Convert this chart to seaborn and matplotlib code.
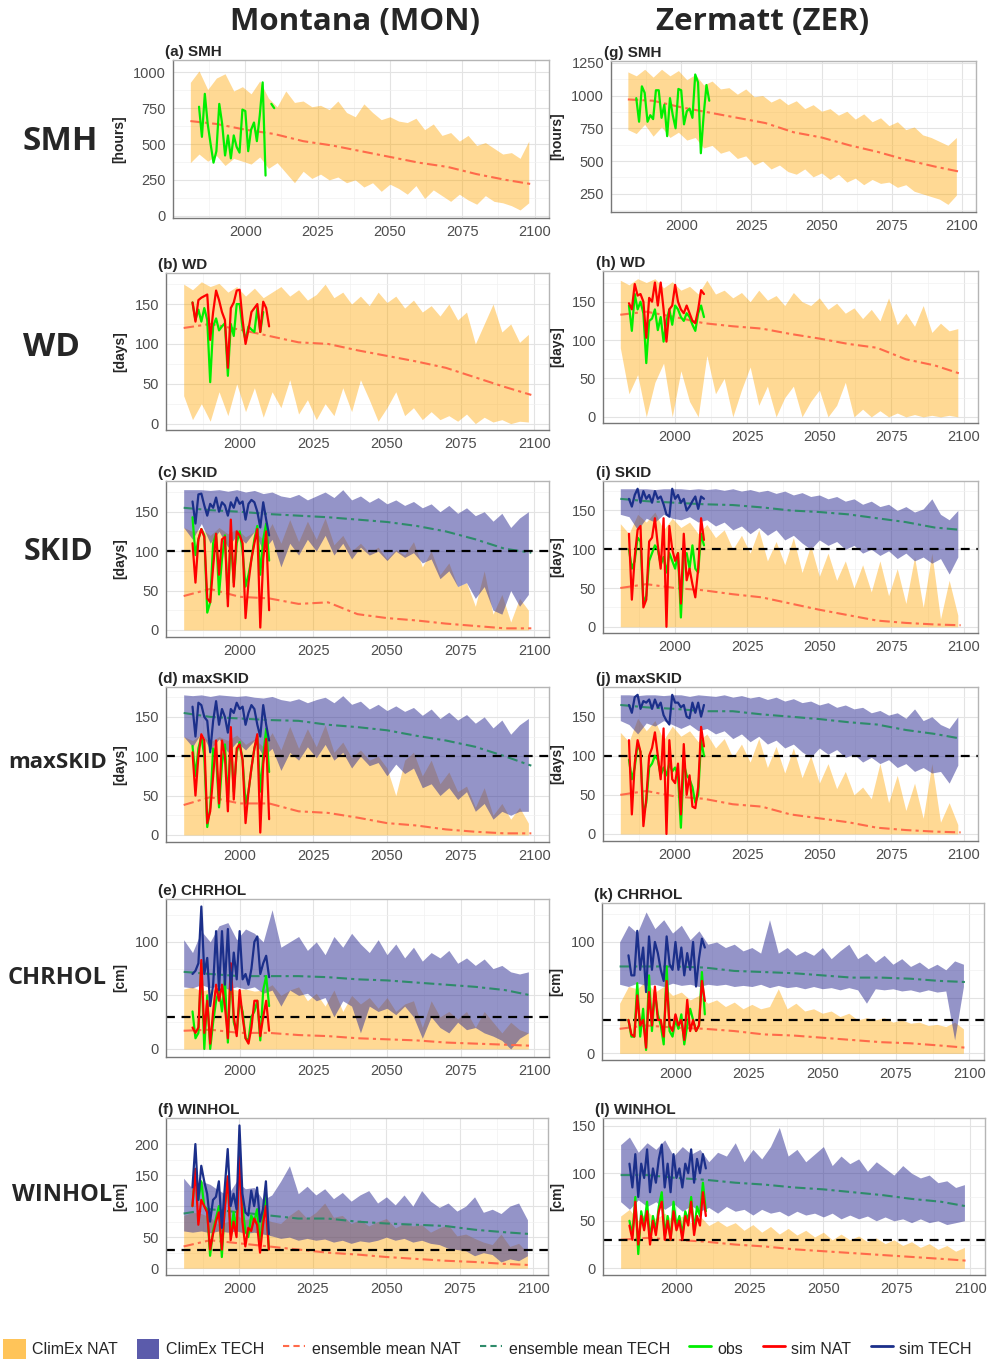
import numpy as np
import seaborn as sns
import matplotlib.pyplot as plt
from matplotlib.patches import Patch
from matplotlib.lines import Line2D
from matplotlib.ticker import FixedLocator

nan = np.nan

# ---- time axes ----
band_years = list(range(1981, 2100, 3))
mean_years = [1981, 1990, 2000, 2010, 2020, 2030, 2040, 2050, 2060, 2070, 2080, 2090, 2099]
obs_years = list(range(1984, 2011))
nat_floor = [0] * len(band_years)

# ---- (a) Montana SMH [hours] ----
mon_smh_nat_hi = [930, 1010, 880, 960, 990, 870, 900, 850, 940, 820,
                  760, 870, 790, 800, 760, 770, 740, 800, 720, 690,
                  780, 720, 670, 690, 660, 650, 680, 600, 640, 560,
                  580, 520, 560, 490, 510, 470, 430, 440, 400, 520]
mon_smh_nat_lo = [370, 430, 380, 420, 350, 400, 380, 360, 410, 330,
                  370, 300, 230, 310, 260, 290, 250, 270, 230, 250,
                  200, 230, 170, 220, 190, 150, 210, 120, 180, 140,
                  100, 150, 110, 80, 140, 100, 90, 70, 40, 90]
mon_smh_nat_mean = [660, 640, 600, 570, 520, 490, 450, 410, 370, 340, 290, 250, 220]
mon_smh_obs = [760, 550, 850, 640, 500, 370, 450, 780, 640, 420,
               560, 400, 560, 480, 440, 740, 730, 450, 600, 650,
               520, 700, 930, 280, nan, 780, 750]

# ---- (g) Zermatt SMH ----
zer_smh_nat_hi = [1180, 1150, 1200, 1140, 1200, 1150, 1190, 1120, 1160, 1080,
                  1110, 1050, 1060, 1010, 1050, 990, 1000, 950, 980, 930,
                  960, 900, 930, 880, 900, 850, 880, 820, 860, 800,
                  830, 770, 800, 740, 760, 700, 680, 650, 620, 680]
zer_smh_nat_lo = [740, 710, 780, 690, 760, 680, 720, 660, 680, 600,
                  620, 560, 580, 520, 540, 470, 500, 440, 470, 420,
                  400, 440, 380, 410, 360, 400, 340, 370, 320, 360,
                  330, 340, 300, 320, 270, 250, 230, 210, 170, 240]
zer_smh_nat_mean = [970, 960, 910, 870, 830, 790, 720, 680, 620, 570, 510, 460, 420]
zer_smh_obs = [980, 800, 1070, 1020, 800, 850, 820, 1040, 1040, 830,
               930, 690, 980, 850, 750, 1050, 1040, 780, 880, 900,
               830, 1160, 1100, 560, 850, 1080, 960]

# ---- (b) Montana WD [days] ----
mon_wd_nat_hi = [175, 168, 178, 172, 176, 165, 172, 160, 170, 158,
                 165, 172, 160, 168, 155, 162, 175, 158, 165, 150,
                 160, 148, 165, 152, 160, 145, 155, 140, 148, 135,
                 150, 130, 140, 100, 125, 150, 115, 125, 102, 112]
mon_wd_nat_lo = [35, 5, 25, 3, 40, 10, 50, 15, 45, 8,
                 40, 20, 55, 12, 30, 5, 25, 10, 45, 15,
                 55, 30, 3, 20, 40, 10, 20, 5, 15, 5,
                 10, 3, 12, 0, 8, 2, 5, 0, 3, 2]
mon_wd_nat_mean = [120, 125, 118, 110, 102, 100, 92, 85, 78, 70, 58, 46, 36]
mon_wd_obs = [152, 130, 143, 128, 145, 130, 52, 122, 132, 117,
              122, 126, 60, 125, 110, 150, 150, 120, 105, 122,
              118, 115, 145, 115, 140, nan, nan]
mon_wd_sim_nat = [152, 128, 155, 158, 160, 162, 105, 140, 167, 155,
                  140, 130, 70, 145, 152, 167, 168, 130, 100, 118,
                  140, 145, 150, 115, 153, 145, 122]

# ---- (h) Zermatt WD ----
zer_wd_nat_hi = [178, 172, 180, 175, 180, 168, 176, 165, 170, 160,
                 178, 160, 165, 155, 162, 150, 165, 152, 158, 145,
                 162, 150, 145, 155, 140, 148, 135, 142, 128, 140,
                 125, 155, 120, 135, 118, 145, 110, 122, 112, 115]
zer_wd_nat_lo = [90, 30, 55, 0, 45, 70, 0, 60, 20, 0,
                 80, 30, 50, 0, 35, 65, 15, 40, 0, 25,
                 40, 0, 20, 35, 0, 15, 45, 0, 10, 0,
                 8, 0, 5, 0, 3, 0, 2, 0, 2, 0]
zer_wd_nat_mean = [133, 137, 130, 122, 118, 115, 108, 102, 95, 90, 75, 67, 56]
zer_wd_obs = [145, 112, 160, 140, 150, 135, 70, 125, 128, 140,
              113, 130, 98, 125, 140, 120, 145, 140, 130, 125,
              135, 130, 120, 112, 135, 145, 130]
zer_wd_sim_nat = [148, 140, 173, 158, 160, 150, 103, 155, 150, 175,
                  145, 175, 140, 98, 140, 145, 172, 150, 140, 135,
                  145, 135, 125, 122, 140, 165, 160]

# ---- (c) Montana SKID [days] ----
mon_skid_tech_hi = [178, 178, 178, 177, 178, 176, 178, 175, 177, 173,
                    175, 170, 168, 172, 165, 170, 175, 168, 178, 165,
                    170, 162, 168, 160, 165, 158, 163, 155, 160, 150,
                    158, 148, 155, 145, 150, 138, 148, 130, 142, 150]
mon_skid_tech_lo = [130, 115, 135, 110, 125, 105, 120, 110, 125, 100,
                    115, 80, 110, 95, 115, 100, 120, 95, 110, 90,
                    105, 95, 100, 88, 100, 92, 98, 85, 90, 65,
                    75, 55, 60, 40, 55, 25, 20, 50, 30, 45]
mon_skid_nat_hi = [130, 125, 128, 120, 130, 122, 128, 118, 125, 115,
                   135, 110, 140, 112, 138, 115, 142, 108, 120, 100,
                   110, 98, 105, 90, 102, 95, 112, 80, 100, 70,
                   85, 55, 60, 30, 75, 20, 45, 10, 40, 25]
mon_skid_nat_mean = [43, 52, 42, 40, 33, 35, 20, 15, 12, 8, 5, 2, 2]
mon_skid_tech_mean = [155, 152, 150, 147, 145, 143, 140, 137, 132, 125, 115, 103, 98]
mon_skid_obs = [143, 95, 115, 128, 120, 22, 35, 110, 122, 45,
                90, 120, 40, 115, 60, 110, 125, 100, 55, 70,
                90, 115, 132, 70, 115, 135, 88]
mon_skid_sim_nat = [110, 60, 115, 128, 118, 40, 35, 80, 122, 70,
                    115, 118, 30, 140, 55, 125, 120, 110, 15, 60,
                    90, 110, 128, 3, 90, 125, 25]
mon_skid_sim_tech = [163, 135, 172, 173, 158, 145, 160, 155, 168, 150,
                     162, 158, 145, 162, 155, 168, 160, 163, 140, 160,
                     165, 162, 150, 130, 162, 140, 120]

# ---- (i) Zermatt SKID ----
zer_skid_tech_hi = [178, 178, 178, 178, 177, 178, 178, 178, 177, 178,
                    177, 178, 176, 178, 175, 177, 174, 176, 172, 175,
                    170, 173, 168, 170, 165, 168, 162, 165, 158, 162,
                    155, 158, 150, 155, 148, 152, 165, 145, 138, 150]
zer_skid_tech_lo = [145, 142, 125, 140, 135, 145, 140, 138, 142, 135,
                    138, 130, 135, 125, 130, 120, 128, 118, 125, 112,
                    118, 108, 100, 112, 105, 110, 100, 105, 95, 100,
                    92, 98, 88, 95, 85, 90, 82, 88, 68, 90]
zer_skid_nat_hi = [133, 120, 145, 135, 148, 125, 140, 128, 135, 120,
                   132, 115, 125, 100, 118, 95, 125, 85, 110, 80,
                   115, 70, 105, 65, 95, 60, 85, 50, 80, 45,
                   85, 40, 75, 30, 90, 25, 95, 10, 60, 15]
zer_skid_nat_mean = [50, 55, 50, 47, 42, 38, 30, 22, 15, 8, 5, 3, 2]
zer_skid_tech_mean = [165, 162, 160, 158, 157, 154, 150, 148, 145, 140, 135, 128, 125]
zer_skid_obs = [100, 75, 85, 115, 110, 30, 40, 85, 95, 105,
                100, 80, 90, 70, 95, 85, 75, 95, 12, 90,
                95, 75, 105, 75, 70, 120, 105]
zer_skid_sim_nat = [120, 35, 90, 125, 130, 25, 35, 110, 115, 140,
                    105, 75, 140, 0, 130, 100, 85, 95, 30, 120,
                    60, 75, 55, 38, 75, 140, 112]
zer_skid_sim_tech = [165, 155, 170, 178, 160, 175, 165, 170, 160, 175,
                     165, 168, 158, 145, 142, 178, 165, 170, 160, 165,
                     150, 155, 162, 168, 152, 168, 165]

# ---- (d) Montana maxSKID [days] ----
mon_maxskid_tech_hi = [178, 177, 178, 176, 178, 177, 176, 177, 175, 174,
                       176, 172, 170, 173, 168, 172, 175, 168, 177, 166,
                       170, 160, 166, 158, 164, 157, 162, 152, 160, 148,
                       156, 146, 153, 142, 150, 136, 146, 128, 140, 148]
mon_maxskid_tech_lo = [125, 112, 130, 108, 122, 105, 118, 108, 120, 100,
                       110, 82, 105, 95, 112, 98, 115, 95, 105, 85,
                       100, 88, 92, 75, 90, 78, 85, 60, 65, 50,
                       60, 45, 55, 30, 40, 20, 30, 25, 30, 30]
mon_maxskid_nat_hi = [125, 120, 128, 118, 125, 120, 127, 115, 122, 112,
                      130, 108, 138, 110, 135, 112, 140, 105, 118, 98,
                      108, 95, 100, 85, 50, 95, 105, 75, 95, 65,
                      80, 55, 62, 35, 60, 25, 40, 20, 35, 15]
mon_maxskid_nat_mean = [38, 48, 40, 40, 30, 28, 22, 15, 12, 7, 4, 2, 2]
mon_maxskid_tech_mean = [155, 150, 148, 146, 145, 140, 137, 133, 126, 120, 112, 100, 88]
mon_maxskid_obs = [113, 75, 110, 125, 100, 10, 35, 110, 100, 35,
                   90, 115, 45, 120, 55, 105, 118, 95, 40, 55,
                   85, 110, 125, 55, 100, 135, 80]
mon_maxskid_sim_nat = [105, 50, 100, 128, 120, 15, 30, 75, 120, 40,
                       120, 100, 30, 137, 45, 110, 115, 95, 15, 55,
                       85, 110, 128, 3, 90, 122, 20]
mon_maxskid_sim_tech = [163, 125, 168, 165, 150, 145, 105, 145, 170, 140,
                        160, 150, 130, 160, 155, 168, 160, 163, 140, 155,
                        165, 160, 140, 125, 165, 140, 120]

# ---- (j) Zermatt maxSKID ----
zer_maxskid_tech_hi = [178, 178, 177, 178, 178, 177, 178, 178, 176, 178,
                       177, 176, 178, 175, 177, 174, 176, 172, 175, 170,
                       173, 168, 170, 165, 168, 162, 165, 160, 162, 155,
                       158, 152, 155, 148, 160, 145, 150, 140, 135, 150]
zer_maxskid_tech_lo = [145, 140, 128, 142, 138, 145, 140, 135, 140, 132,
                       135, 128, 132, 122, 128, 118, 125, 115, 120, 110,
                       115, 105, 98, 110, 102, 108, 98, 102, 92, 98,
                       90, 95, 85, 90, 80, 85, 78, 80, 65, 88]
zer_maxskid_nat_hi = [130, 118, 148, 132, 145, 120, 138, 125, 132, 118,
                      128, 110, 122, 98, 115, 92, 122, 85, 112, 78,
                      110, 72, 100, 65, 90, 58, 80, 50, 60, 45,
                      90, 40, 75, 30, 65, 20, 90, 15, 40, 12]
zer_maxskid_nat_mean = [50, 55, 48, 45, 38, 35, 25, 20, 15, 8, 5, 3, 2]
zer_maxskid_tech_mean = [165, 162, 160, 157, 157, 153, 150, 147, 143, 140, 133, 128, 122]
zer_maxskid_obs = [95, 70, 85, 115, 105, 25, 40, 85, 90, 100,
                   95, 75, 85, 75, 90, 80, 85, 75, 8, 90,
                   75, 70, 60, 40, 50, 120, 100]
zer_maxskid_sim_nat = [120, 25, 90, 120, 105, 10, 45, 100, 110, 130,
                       100, 70, 135, 0, 120, 70, 65, 90, 25, 115,
                       50, 75, 35, 33, 60, 137, 112]
zer_maxskid_sim_tech = [165, 155, 175, 178, 160, 170, 168, 172, 160, 172,
                        162, 168, 152, 145, 140, 178, 168, 168, 162, 165,
                        150, 148, 168, 155, 168, 150, 165]

# ---- (e) Montana CHRHOL [cm] ----
mon_chrhol_tech_hi = [102, 90, 110, 100, 115, 118, 102, 112, 108, 100,
                      130, 95, 100, 105, 92, 100, 88, 105, 95, 108,
                      98, 90, 102, 88, 98, 85, 95, 82, 90, 85,
                      92, 80, 85, 78, 84, 75, 78, 72, 70, 72]
mon_chrhol_tech_lo = [58, 57, 60, 57, 59, 56, 58, 56, 58, 52,
                      55, 40, 55, 50, 52, 45, 48, 30, 45, 40,
                      15, 40, 35, 38, 32, 40, 30, 10, 30, 20,
                      15, 25, 18, 20, 15, 12, 8, 0, 10, 15]
mon_chrhol_nat_hi = [56, 58, 54, 56, 54, 57, 55, 56, 54, 55,
                     60, 50, 55, 58, 45, 52, 40, 55, 35, 50,
                     42, 48, 38, 48, 35, 42, 45, 20, 45, 30,
                     35, 28, 35, 20, 35, 25, 15, 25, 18, 15]
mon_chrhol_nat_mean = [17, 18, 15, 15, 13, 12, 10, 9, 8, 6, 5, 4, 3]
mon_chrhol_tech_mean = [72, 70, 68, 68, 68, 67, 65, 64, 62, 60, 58, 55, 50]
mon_chrhol_obs = [35, 10, 15, 80, 0, 50, 0, 25, 45, 55,
                  35, 65, 6, 75, 25, 15, 45, 35, 10, 8,
                  30, 35, 45, 8, 55, 68, 40]
mon_chrhol_sim_nat = [20, 15, 20, 83, 15, 45, 5, 35, 60, 45,
                      60, 40, 10, 80, 30, 12, 55, 30, 10, 5,
                      20, 45, 45, 12, 30, 45, 17]
mon_chrhol_sim_tech = [70, 73, 80, 133, 70, 85, 40, 60, 110, 55,
                       110, 60, 112, 55, 90, 65, 110, 65, 70, 60,
                       75, 100, 105, 70, 80, 87, 67]

# ---- (k) Zermatt CHRHOL ----
zer_chrhol_tech_hi = [100, 115, 108, 127, 112, 120, 108, 115, 102, 110,
                      98, 100, 95, 98, 92, 95, 90, 120, 90, 95,
                      88, 92, 88, 95, 85, 92, 98, 85, 90, 82,
                      88, 80, 85, 78, 82, 76, 80, 75, 83, 80]
zer_chrhol_tech_lo = [62, 60, 63, 61, 62, 60, 63, 61, 62, 60,
                      62, 61, 62, 60, 61, 60, 62, 59, 61, 59,
                      60, 58, 60, 58, 59, 57, 59, 57, 45, 58,
                      57, 58, 56, 57, 55, 57, 55, 56, 12, 60]
zer_chrhol_nat_hi = [45, 60, 58, 65, 55, 60, 52, 55, 48, 52,
                     45, 48, 42, 46, 40, 44, 40, 42, 58, 40,
                     45, 38, 40, 36, 38, 33, 36, 30, 32, 30,
                     32, 28, 30, 27, 28, 25, 26, 24, 28, 22]
zer_chrhol_nat_mean = [22, 25, 23, 22, 20, 17, 16, 14, 12, 10, 9, 7, 5]
zer_chrhol_tech_mean = [78, 78, 78, 77, 74, 73, 72, 70, 68, 68, 67, 65, 64]
zer_chrhol_obs = [30, 15, 15, 63, 15, 40, 3, 70, 20, 55,
                  35, 25, 8, 78, 20, 15, 30, 22, 35, 8,
                  25, 40, 30, 20, 25, 73, 35]
zer_chrhol_sim_nat = [30, 17, 15, 52, 25, 30, 5, 55, 25, 60,
                      30, 30, 15, 65, 25, 20, 35, 25, 30, 12,
                      48, 20, 30, 20, 25, 65, 47]
zer_chrhol_sim_tech = [88, 70, 70, 110, 75, 95, 55, 105, 75, 100,
                       90, 75, 65, 105, 80, 75, 100, 75, 95, 70,
                       90, 75, 100, 60, 85, 103, 95]

# ---- (f) Montana WINHOL [cm] ----
mon_winhol_tech_hi = [145, 128, 140, 135, 125, 118, 140, 128, 130, 110,
                      118, 140, 165, 120, 132, 118, 128, 112, 122, 108,
                      118, 125, 105, 115, 102, 118, 100, 125, 108, 98,
                      105, 92, 100, 115, 90, 95, 88, 100, 105, 78]
mon_winhol_tech_lo = [60, 58, 60, 57, 60, 58, 60, 56, 58, 55,
                      52, 48, 50, 45, 48, 45, 47, 42, 45, 40,
                      44, 42, 45, 50, 45, 48, 42, 45, 40, 38,
                      32, 30, 28, 20, 25, 22, 10, 15, 12, 20]
mon_winhol_nat_hi = [85, 90, 88, 82, 70, 75, 85, 78, 82, 80,
                     75, 72, 85, 95, 80, 90, 105, 82, 85, 72,
                     78, 68, 75, 80, 65, 72, 68, 70, 58, 65,
                     70, 52, 55, 48, 42, 38, 55, 35, 40, 25]
mon_winhol_nat_mean = [35, 45, 40, 35, 30, 25, 22, 18, 15, 12, 10, 7, 5]
mon_winhol_tech_mean = [88, 95, 90, 85, 80, 80, 75, 72, 70, 68, 62, 58, 55]
mon_winhol_obs = [100, 160, 110, 140, 100, 95, 20, 60, 80, 100,
                  18, 100, 145, 55, 90, 60, 185, 100, 60, 50,
                  85, 75, 95, 40, 80, 120, 30]
mon_winhol_sim_nat = [100, 160, 70, 110, 100, 90, 30, 55, 75, 90,
                      30, 95, 148, 45, 75, 50, 180, 75, 35, 65,
                      60, 80, 70, 25, 70, 100, 30]
mon_winhol_sim_tech = [130, 200, 110, 165, 140, 120, 75, 110, 115, 140,
                       65, 130, 192, 100, 120, 95, 230, 120, 90, 85,
                       125, 100, 130, 75, 95, 140, 55]

# ---- (l) Zermatt WINHOL ----
zer_winhol_tech_hi = [130, 138, 122, 132, 125, 135, 118, 128, 120, 125,
                      112, 122, 118, 132, 112, 125, 115, 128, 148, 118,
                      125, 112, 120, 128, 108, 118, 110, 115, 102, 112,
                      105, 98, 108, 100, 95, 98, 90, 92, 85, 88]
zer_winhol_tech_lo = [70, 62, 72, 65, 70, 62, 68, 60, 66, 60,
                      64, 58, 65, 60, 62, 56, 62, 58, 60, 55,
                      60, 56, 58, 54, 58, 52, 56, 52, 55, 50,
                      54, 50, 52, 48, 52, 48, 50, 46, 48, 50]
zer_winhol_nat_hi = [55, 62, 50, 60, 52, 58, 50, 55, 48, 55,
                     45, 50, 44, 48, 40, 46, 38, 44, 36, 42,
                     35, 40, 33, 38, 30, 36, 30, 34, 28, 32,
                     26, 30, 24, 28, 22, 26, 20, 24, 18, 22]
zer_winhol_nat_mean = [30, 32, 30, 28, 25, 23, 20, 18, 16, 14, 12, 10, 8]
zer_winhol_tech_mean = [98, 98, 95, 93, 90, 88, 85, 83, 80, 77, 73, 70, 65]
zer_winhol_obs = [50, 35, 75, 15, 60, 45, 70, 30, 55, 40,
                  65, 80, 35, 55, 30, 70, 45, 55, 35, 60,
                  50, 75, 40, 65, 55, 90, 60]
zer_winhol_sim_nat = [45, 30, 70, 25, 55, 40, 60, 25, 50, 35,
                      60, 70, 30, 50, 30, 60, 40, 50, 30, 55,
                      45, 70, 35, 55, 45, 80, 55]
zer_winhol_sim_tech = [110, 85, 120, 75, 110, 95, 125, 80, 105, 90,
                       115, 130, 85, 110, 80, 120, 95, 105, 85, 110,
                       100, 125, 90, 115, 100, 120, 105]

# ---- styles ----
NAT_FILL = "#FFA500"
TECH_FILL = "#323296"
NAT_MEAN = "#FF6A4A"
TECH_MEAN = "#2E8B6A"
OBS = "#00EE00"
SIM_NAT = "#FF0000"
SIM_TECH = "#1B2F8A"
MEAN_LS = (0, (5, 2, 1.5, 2))

W, H = 995, 1362

panels = [
    dict(tag="(a) SMH", box=(173, 60, 549, 218), ylab="[hours]", ylim=(-16, 1086),
         yticks=[0, 250, 500, 750, 1000], nat=(mon_smh_nat_lo, mon_smh_nat_hi, mon_smh_nat_mean),
         obs=mon_smh_obs),
    dict(tag="(g) SMH", box=(611, 61, 976, 212), ylab="[hours]", ylim=(112, 1263),
         yticks=[250, 500, 750, 1000, 1250], nat=(zer_smh_nat_lo, zer_smh_nat_hi, zer_smh_nat_mean),
         obs=zer_smh_obs),
    dict(tag="(b) WD", box=(166, 273, 549, 430), ylab="[days]", ylim=(-8, 189),
         yticks=[0, 50, 100, 150], nat=(mon_wd_nat_lo, mon_wd_nat_hi, mon_wd_nat_mean),
         obs=mon_wd_obs, sim_nat=mon_wd_sim_nat),
    dict(tag="(h) WD", box=(603, 271, 978, 423), ylab="[days]", ylim=(-8, 190),
         yticks=[0, 50, 100, 150], nat=(zer_wd_nat_lo, zer_wd_nat_hi, zer_wd_nat_mean),
         obs=zer_wd_obs, sim_nat=zer_wd_sim_nat),
    dict(tag="(c) SKID", box=(166, 481, 549, 637), ylab="[days]", ylim=(-9, 189),
         yticks=[0, 50, 100, 150], nat=(nat_floor, mon_skid_nat_hi, mon_skid_nat_mean),
         tech=(mon_skid_tech_lo, mon_skid_tech_hi, mon_skid_tech_mean), thr=100,
         obs=mon_skid_obs, sim_nat=mon_skid_sim_nat, sim_tech=mon_skid_sim_tech),
    dict(tag="(i) SKID", box=(603, 481, 978, 633), ylab="[days]", ylim=(-8, 188),
         yticks=[0, 50, 100, 150], nat=(nat_floor, zer_skid_nat_hi, zer_skid_nat_mean),
         tech=(zer_skid_tech_lo, zer_skid_tech_hi, zer_skid_tech_mean), thr=100,
         obs=zer_skid_obs, sim_nat=zer_skid_sim_nat, sim_tech=zer_skid_sim_tech),
    dict(tag="(d) maxSKID", box=(166, 687, 549, 842), ylab="[days]", ylim=(-9, 188),
         yticks=[0, 50, 100, 150], nat=(nat_floor, mon_maxskid_nat_hi, mon_maxskid_nat_mean),
         tech=(mon_maxskid_tech_lo, mon_maxskid_tech_hi, mon_maxskid_tech_mean), thr=100,
         obs=mon_maxskid_obs, sim_nat=mon_maxskid_sim_nat, sim_tech=mon_maxskid_sim_tech),
    dict(tag="(j) maxSKID", box=(603, 687, 978, 841), ylab="[days]", ylim=(-9, 188),
         yticks=[0, 50, 100, 150], nat=(nat_floor, zer_maxskid_nat_hi, zer_maxskid_nat_mean),
         tech=(zer_maxskid_tech_lo, zer_maxskid_tech_hi, zer_maxskid_tech_mean), thr=100,
         obs=zer_maxskid_obs, sim_nat=zer_maxskid_sim_nat, sim_tech=zer_maxskid_sim_tech),
    dict(tag="(e) CHRHOL", box=(166, 899, 549, 1057), ylab="[cm]", ylim=(-7.5, 140),
         yticks=[0, 50, 100], nat=(nat_floor, mon_chrhol_nat_hi, mon_chrhol_nat_mean),
         tech=(mon_chrhol_tech_lo, mon_chrhol_tech_hi, mon_chrhol_tech_mean), thr=30,
         obs=mon_chrhol_obs, sim_nat=mon_chrhol_sim_nat, sim_tech=mon_chrhol_sim_tech),
    dict(tag="(k) CHRHOL", box=(602, 903, 984, 1060), ylab="[cm]", ylim=(-6, 135),
         yticks=[0, 50, 100], nat=(nat_floor, zer_chrhol_nat_hi, zer_chrhol_nat_mean),
         tech=(zer_chrhol_tech_lo, zer_chrhol_tech_hi, zer_chrhol_tech_mean), thr=30,
         obs=zer_chrhol_obs, sim_nat=zer_chrhol_sim_nat, sim_tech=zer_chrhol_sim_tech),
    dict(tag="(f) WINHOL", box=(166, 1118, 548, 1275), ylab="[cm]", ylim=(-11, 242),
         yticks=[0, 50, 100, 150, 200], nat=(nat_floor, mon_winhol_nat_hi, mon_winhol_nat_mean),
         tech=(mon_winhol_tech_lo, mon_winhol_tech_hi, mon_winhol_tech_mean), thr=30,
         obs=mon_winhol_obs, sim_nat=mon_winhol_sim_nat, sim_tech=mon_winhol_sim_tech),
    dict(tag="(l) WINHOL", box=(603, 1118, 985, 1275), ylab="[cm]", ylim=(-7, 158),
         yticks=[0, 50, 100, 150], nat=(nat_floor, zer_winhol_nat_hi, zer_winhol_nat_mean),
         tech=(zer_winhol_tech_lo, zer_winhol_tech_hi, zer_winhol_tech_mean), thr=30,
         obs=zer_winhol_obs, sim_nat=zer_winhol_sim_nat, sim_tech=zer_winhol_sim_tech),
]

sns.set_style("whitegrid")
plt.rcParams['font.family'] = ['Liberation Sans', 'DejaVu Sans']

fig = plt.figure(figsize=(W / 100, H / 100), dpi=100)


def line(ax, x, y, color, lw=1.6, ls="-"):
    sns.lineplot(x=x, y=y, ax=ax, color=color, lw=lw, linestyle=ls,
                 estimator=None, sort=False)


for p in panels:
    x0, y0, x1, y1 = p["box"]
    ax = fig.add_axes([x0 / W, 1 - y1 / H, (x1 - x0) / W, (y1 - y0) / H])

    lo, hi, mean = p["nat"]
    ax.fill_between(band_years, lo, hi, color=NAT_FILL, alpha=0.42, lw=0)
    if "tech" in p:
        tlo, thi, tmean = p["tech"]
        ax.fill_between(band_years, tlo, thi, color=TECH_FILL, alpha=0.52, lw=0)
    line(ax, mean_years, mean, NAT_MEAN, lw=1.5, ls=MEAN_LS)
    if "tech" in p:
        line(ax, mean_years, tmean, TECH_MEAN, lw=1.5, ls=MEAN_LS)
    if "thr" in p:
        ax.axhline(p["thr"], color="black", lw=1.6, ls=(0, (4, 3)))

    # obs may contain gaps, plotted directly so the gap stays open
    ax.plot(obs_years, p["obs"], color=OBS, lw=1.6)
    if "sim_nat" in p:
        line(ax, obs_years, p["sim_nat"], SIM_NAT)
    if "sim_tech" in p:
        line(ax, obs_years, p["sim_tech"], SIM_TECH)

    ax.set_xlim(1975, 2105)
    ax.set_ylim(*p["ylim"])
    ax.set_xticks([2000, 2025, 2050, 2075, 2100])
    ax.set_yticks(p["yticks"])
    yt = p["yticks"]
    step = yt[1] - yt[0]
    ax.xaxis.set_minor_locator(FixedLocator([1987.5, 2012.5, 2037.5, 2062.5, 2087.5]))
    ax.yaxis.set_minor_locator(FixedLocator([v + step / 2 for v in [yt[0] - step] + yt]))
    ax.grid(which="major", color="#E3E3E3", lw=0.8)
    ax.grid(which="minor", color="#F1F1F1", lw=0.5)
    ax.set_axisbelow(True)
    ax.tick_params(which="major", length=3, width=0.8, color="#444444",
                   labelsize=10.5, labelcolor="#4D4D4D", pad=2)
    ax.tick_params(which="minor", length=0)
    for side in ["top", "right"]:
        ax.spines[side].set_color("#B5B5B5")
        ax.spines[side].set_linewidth(1.0)
    for side in ["left", "bottom"]:
        ax.spines[side].set_color("#777777")
        ax.spines[side].set_linewidth(1.0)
    ax.set_xlabel("")
    ax.set_ylabel(p["ylab"], fontsize=10, fontweight="bold", labelpad=5)
    ax.set_title(p["tag"], loc="left", x=-0.02, fontsize=11, fontweight="bold", pad=3)

# column and row headings
head = ['Open Sans', 'DejaVu Sans']
fig.text(355 / W, 1 - 22 / H, "Montana (MON)", fontsize=22.5, fontweight="bold",
         ha="center", va="center", family=head)
fig.text(763 / W, 1 - 22 / H, "Zermatt (ZER)", fontsize=22.5, fontweight="bold",
         ha="center", va="center", family=head)
row_labels = [("SMH", 60, 141, 24), ("WD", 52, 348, 24), ("SKID", 58, 552, 22),
              ("maxSKID", 58, 763, 16), ("CHRHOL", 57, 978, 17), ("WINHOL", 62, 1195, 17)]
for txt, x, y, fs in row_labels:
    fig.text(x / W, 1 - y / H, txt, fontsize=fs, fontweight="bold",
             ha="center", va="center", family=head)

# legend
handles = [
    Patch(facecolor=NAT_FILL, alpha=0.65, edgecolor="none"),
    Patch(facecolor=TECH_FILL, alpha=0.8, edgecolor="none"),
    Line2D([], [], color=NAT_MEAN, lw=1.5, ls=(0, (3, 2))),
    Line2D([], [], color=TECH_MEAN, lw=1.5, ls=(0, (3, 2))),
    Line2D([], [], color=OBS, lw=2),
    Line2D([], [], color=SIM_NAT, lw=2),
    Line2D([], [], color=SIM_TECH, lw=2),
]
labels = ["ClimEx NAT", "ClimEx TECH", "ensemble mean NAT", "ensemble mean TECH",
          "obs", "sim NAT", "sim TECH"]
fig.legend(handles, labels, loc="center", bbox_to_anchor=(0.49, 1 - 1349 / H), ncol=7,
           frameon=False, fontsize=11.5, handlelength=1.4, handleheight=1.6,
           handletextpad=0.4, columnspacing=1.2)

fig.savefig("out.png", dpi=100, facecolor="white")
